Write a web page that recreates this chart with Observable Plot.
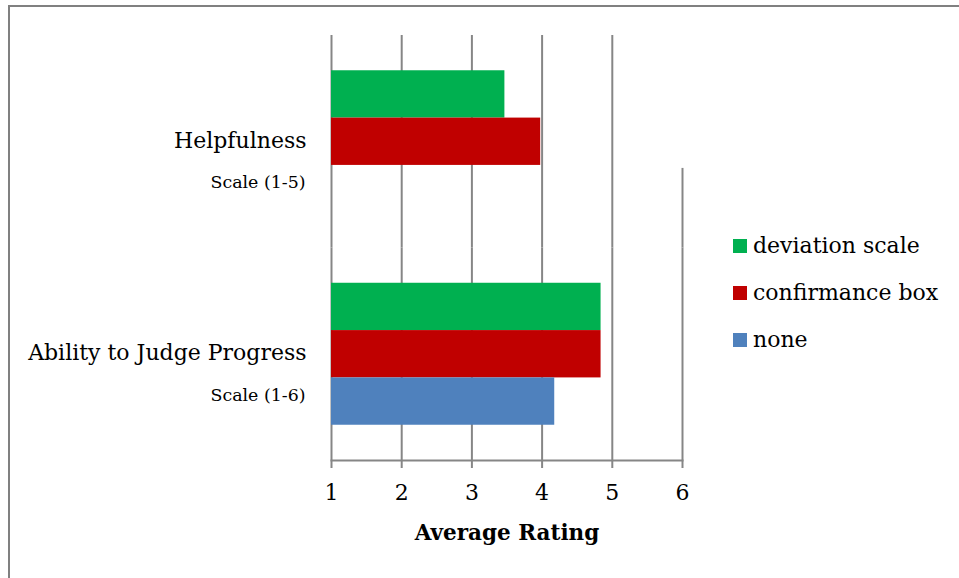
<!DOCTYPE html>
<html><head><meta charset="utf-8">
<script src="https://cdn.jsdelivr.net/npm/d3@7"></script>
<script src="https://cdn.jsdelivr.net/npm/@observablehq/plot@0.6"></script>
<style>
body{margin:0;background:#fff;}
#wrap{position:relative;width:959px;height:578px;overflow:hidden;font-family:"DejaVu Serif",serif;}
#chart{position:absolute;left:0;top:0;}
#border{position:absolute;left:8px;top:5px;width:960px;height:600px;border-top:2px solid #808080;border-left:2px solid #808080;box-sizing:border-box;}
#legend{position:absolute;left:733px;top:222px;}
.item{display:flex;align-items:center;height:47px;font-size:22px;color:#000;}
.sw{width:14px;height:14px;margin-right:6px;}
</style></head>
<body><div id="wrap"><div id="border"></div><div id="chart"></div><div id="legend"></div></div>
<script>
const categories = ["Helpfulness", "Ability to Judge Progress"];
const scaleLabels = ["Scale (1-5)", "Scale (1-6)"];
const series = ["deviation scale", "confirmance box", "none"];
const colors = ["#00B050", "#C00000", "#4F81BD"];
const helpfulnessValues = [3.47, 3.98, null];
const abilityValues = [4.84, 4.84, 4.18];
const ticks = [1, 2, 3, 4, 5, 6];
const axisLabel = "Average Rating";

const valuesByCategory = [helpfulnessValues, abilityValues];
const rows = [];
categories.forEach((c, ci) => series.forEach((s, si) => {
  const v = valuesByCategory[ci][si];
  if (v != null) rows.push({category: c, series: s, value: v});
}));
const catRows = categories.map((c, i) => ({category: c, sub: scaleLabels[i]}));

const font = "DejaVu Serif";
const gridColor = "#868686";
const lastTick = ticks[ticks.length - 1];

// layout
const W = 959, H = 578, mT = 35, mB = 118;
const outerPad = 0.745;
const facetH = (H - mT - mB) / categories.length;
const step = facetH / (series.length + 2 * outerPad);
const gap = outerPad * step;

const chart = Plot.plot({
  width: W, height: H,
  marginLeft: 331, marginRight: 277, marginTop: mT, marginBottom: mB,
  style: {fontFamily: font, background: "transparent", color: "#000"},
  x: {domain: [ticks[0], lastTick], axis: null},
  y: {domain: series, paddingInner: 0, paddingOuter: outerPad, round: false, axis: null},
  fy: {domain: categories, padding: 0, round: false, axis: null},
  color: {domain: series, range: colors},
  marks: [
    Plot.ruleX(ticks.slice(0, -1), {stroke: gridColor, strokeWidth: 2}),
    Plot.ruleX([{category: categories[1]}], {x: lastTick, fy: "category", stroke: gridColor, strokeWidth: 2}),
    Plot.ruleX([{category: categories[0], series: series[2]}], {x: lastTick, y1: "series", y2: "series", insetTop: 3, insetBottom: -gap, fy: "category", stroke: gridColor, strokeWidth: 2}),
    Plot.barX(rows, {x1: ticks[0], x2: "value", y: "series", fy: "category", fill: "series"}),
    Plot.frame({anchor: "bottom", facetAnchor: "bottom", stroke: gridColor, strokeWidth: 2}),
    Plot.axisX(ticks, {anchor: "bottom", tickSize: 8, tickPadding: 16, stroke: gridColor, strokeWidth: 2, fontSize: 22, label: null}),
    Plot.text([axisLabel], {text: d => d, frameAnchor: "bottom", facetAnchor: "bottom", dy: 79, fontSize: 21.5, fontWeight: "bold"}),
    Plot.text(catRows, {fy: "category", text: "category", frameAnchor: "left", textAnchor: "end", dx: -25, dy: -1, fontSize: 22}),
    Plot.text(catRows, {fy: "category", text: "sub", frameAnchor: "left", textAnchor: "end", dx: -26, dy: 41, fontSize: 17.4})
  ]
});
document.getElementById("chart").appendChild(chart);

const legend = document.getElementById("legend");
series.forEach((s, i) => {
  const it = document.createElement("div"); it.className = "item";
  const sw = document.createElement("div"); sw.className = "sw"; sw.style.background = colors[i];
  const t = document.createElement("span"); t.textContent = s;
  it.appendChild(sw); it.appendChild(t); legend.appendChild(it);
});
</script>
</body></html>
